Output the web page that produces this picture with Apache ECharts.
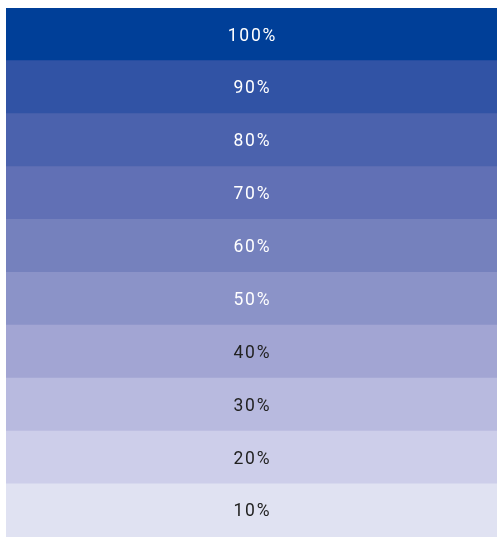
<!DOCTYPE html>
<html>
<head>
	<meta charset="utf-8" />
	<script src="https://cdn.jsdelivr.net/npm/echarts@6.0.0/dist/echarts.min.js"></script>
</head>
<body style="margin: 0; background-color: #ffffff">
	<div id="main" style="width: 497px; height: 537px;"></div>
</body>
<script type="text/javascript">
	var levels = ['100%', '90%', '80%', '70%', '60%', '50%', '40%', '30%', '20%', '10%'];
	var values = [1, 1, 1, 1, 1, 1, 1, 1, 1, 1];
	var colors = ['#003f98', '#3153a5', '#4b62ad', '#6170b5', '#7581bd', '#8b93c8', '#a2a5d3', '#b8badf', '#cdceea', '#e0e2f2'];
	var textColors = ['#ffffff', '#ffffff', '#ffffff', '#ffffff', '#ffffff', '#ffffff', '#222222', '#222222', '#222222', '#222222'];

	// spread the characters a little, like the original tracking
	function spaced(s) {
		return s.split('').join('\u200a');
	}

	var myChart = echarts.init(document.getElementById('main'));

	var option = {
		animation: false,
		grid: { left: 6, right: 0, top: 8, bottom: 0 },
		xAxis: { type: 'value', min: 0, max: 1, show: false },
		yAxis: { type: 'category', data: levels, inverse: true, show: false },
		series: [{
			type: 'bar',
			barWidth: '102%',   // slight overlap hides the seams between bands
			data: values.map(function (v, i) {
				return {
					value: v,
					itemStyle: { color: colors[i] },
					label: { color: textColors[i] }
				};
			}),
			label: {
				show: true,
				position: 'inside',
				offset: [0, 1.5],
				fontFamily: 'Roboto',
				fontSize: 17.5,
				formatter: function (p) { return spaced(p.name); }
			}
		}]
	};

	myChart.setOption(option);
</script>
</html>
